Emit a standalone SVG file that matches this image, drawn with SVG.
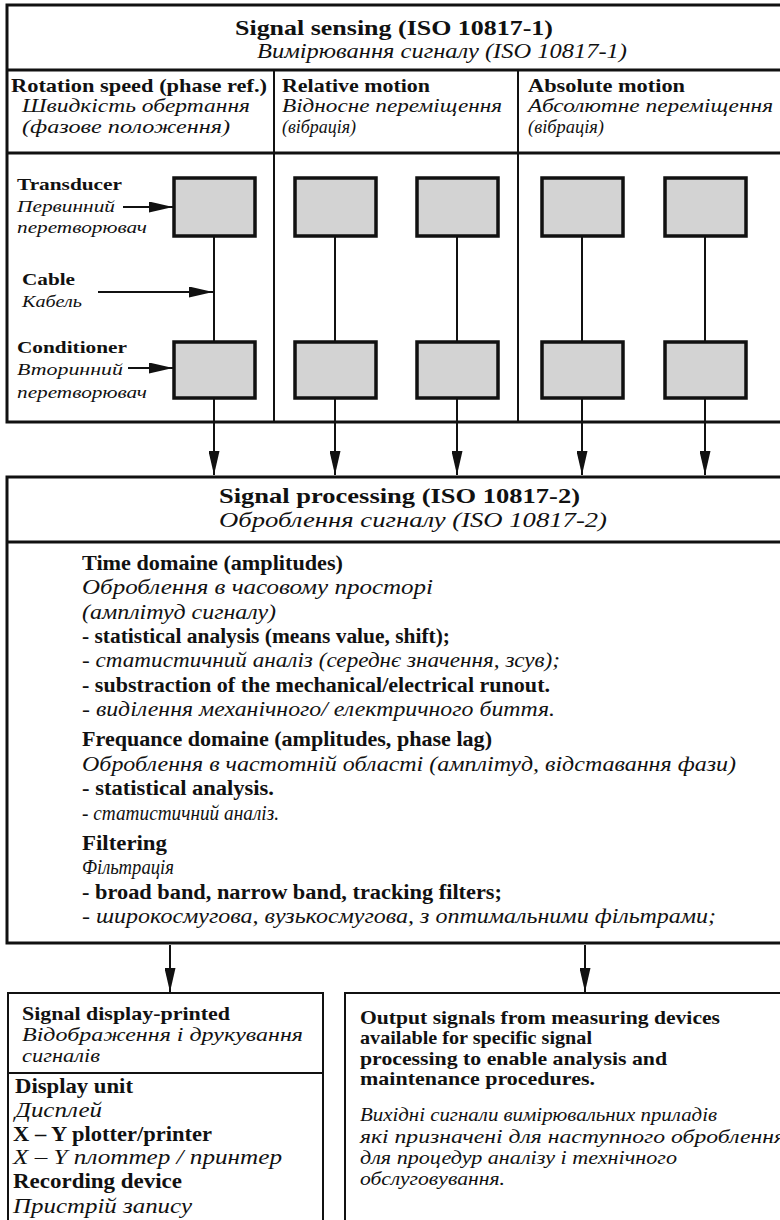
<svg xmlns="http://www.w3.org/2000/svg" width="780" height="1220" viewBox="0 0 780 1220">
<style>
.frame{fill:none;stroke:#111;stroke-width:3}
.thin{stroke:#111;stroke-width:2;fill:none}
.blk{fill:#d3d3d3;stroke:#111;stroke-width:3.5}
.conn{stroke:#111;stroke-width:2;fill:none}
text{font-family:'Liberation Serif','Times New Roman','DejaVu Serif',serif;fill:#111}
.b{font-weight:bold}
.i{font-style:italic}
.s21{font-size:21px}
.s19{font-size:19px}
.s17{font-size:17px}
.s20{font-size:20px}
</style>
<defs>
<marker id="ah" markerUnits="userSpaceOnUse" markerWidth="24" markerHeight="11" refX="24" refY="5.5" orient="auto">
<path d="M0,0 L24,5.5 L0,11 z" fill="#111"/>
</marker>
<marker id="ahs" markerUnits="userSpaceOnUse" markerWidth="24" markerHeight="11" refX="24" refY="5.5" orient="auto">
<path d="M0,0 L24,5.5 L0,11 z" fill="#111"/>
</marker>
</defs>
<rect width="780" height="1220" fill="#fff"/>
<g font-family="Liberation Serif, serif">

<g id="sensing">
<rect class="frame" x="7" y="5" width="790" height="417"/>
<line class="frame" x1="7" y1="70" x2="785" y2="70"/>
<line class="frame" x1="7" y1="153" x2="785" y2="153"/>
<line class="thin" x1="274" y1="70" x2="274" y2="422"/>
<line class="thin" x1="518" y1="70" x2="518" y2="422"/>
<text class="b s21" x="235" y="35" textLength="318" lengthAdjust="spacingAndGlyphs">Signal sensing (ISO 10817-1)</text>
<text class="i s21" x="257" y="58" textLength="370" lengthAdjust="spacingAndGlyphs">Вимірювання сигналу (ISO 10817-1)</text>
</g>

<g id="col-rotation">
<text class="b s19" x="11" y="92" textLength="256" lengthAdjust="spacingAndGlyphs">Rotation speed (phase ref.)</text>
<text class="i s19" x="22" y="112" textLength="228" lengthAdjust="spacingAndGlyphs">Швидкість обертання</text>
<text class="i s19" x="22" y="133" textLength="208" lengthAdjust="spacingAndGlyphs">(фазове положення)</text>
<text class="b s17" x="17" y="190" textLength="105" lengthAdjust="spacingAndGlyphs">Transducer</text>
<text class="i s17" x="17" y="212" textLength="98" lengthAdjust="spacingAndGlyphs">Первинний</text>
<text class="i s17" x="17" y="233" textLength="130" lengthAdjust="spacingAndGlyphs">перетворювач</text>
<text class="b s17" x="22" y="285" textLength="53" lengthAdjust="spacingAndGlyphs">Cable</text>
<text class="i s17" x="22" y="307" textLength="60" lengthAdjust="spacingAndGlyphs">Кабель</text>
<text class="b s17" x="17" y="353" textLength="110" lengthAdjust="spacingAndGlyphs">Conditioner</text>
<text class="i s17" x="17" y="375" textLength="106" lengthAdjust="spacingAndGlyphs">Вторинний</text>
<text class="i s17" x="17" y="398" textLength="130" lengthAdjust="spacingAndGlyphs">перетворювач</text>
</g>
<g id="col-relative">
<text class="b s19" x="282" y="92" textLength="148" lengthAdjust="spacingAndGlyphs">Relative motion</text>
<text class="i s19" x="282" y="112" textLength="220" lengthAdjust="spacingAndGlyphs">Відносне переміщення</text>
<text class="i s19" x="282" y="133" textLength="74" lengthAdjust="spacingAndGlyphs">(вібрація)</text>
</g>
<g id="col-absolute">
<text class="b s19" x="528" y="92" textLength="157" lengthAdjust="spacingAndGlyphs">Absolute  motion</text>
<text class="i s19" x="528" y="112" textLength="245" lengthAdjust="spacingAndGlyphs">Абсолютне переміщення</text>
<text class="i s19" x="528" y="133" textLength="76" lengthAdjust="spacingAndGlyphs">(вібрація)</text>
</g>

<g id="transducers">
<rect class="blk" x="174" y="178" width="81" height="58"/>
<rect class="blk" x="295" y="178" width="81" height="58"/>
<rect class="blk" x="417" y="178" width="81" height="58"/>
<rect class="blk" x="542" y="178" width="81" height="58"/>
<rect class="blk" x="665" y="178" width="81" height="58"/>
</g>
<g id="conditioners">
<rect class="blk" x="174" y="342" width="81" height="56"/>
<rect class="blk" x="295" y="342" width="81" height="56"/>
<rect class="blk" x="417" y="342" width="81" height="56"/>
<rect class="blk" x="542" y="342" width="81" height="56"/>
<rect class="blk" x="665" y="342" width="81" height="56"/>
</g>

<g id="processing">
<rect class="frame" x="7" y="477" width="790" height="466"/>
<line class="frame" x1="7" y1="542" x2="785" y2="542"/>
<text class="b s21" x="219" y="503" textLength="361" lengthAdjust="spacingAndGlyphs">Signal processing  (ISO 10817-2)</text>
<text class="i s21" x="219" y="527" textLength="388" lengthAdjust="spacingAndGlyphs">Оброблення  сигналу  (ISO 10817-2)</text>
<text class="b s20" x="82" y="570" textLength="261" lengthAdjust="spacingAndGlyphs">Time domaine (amplitudes)</text>
<text class="i s20" x="82" y="594" textLength="351" lengthAdjust="spacingAndGlyphs">Оброблення в часовому просторі</text>
<text class="i s20" x="82" y="619" textLength="194" lengthAdjust="spacingAndGlyphs">(амплітуд сигналу)</text>
<text class="b s20" x="82" y="643" textLength="368" lengthAdjust="spacingAndGlyphs">- statistical analysis (means value, shift);</text>
<text class="i s20" x="82" y="667" textLength="478" lengthAdjust="spacingAndGlyphs">- статистичний аналіз (середнє значення, зсув);</text>
<text class="b s20" x="82" y="692" textLength="468" lengthAdjust="spacingAndGlyphs">- substraction of the mechanical/electrical runout.</text>
<text class="i s20" x="82" y="716" textLength="473" lengthAdjust="spacingAndGlyphs">- виділення механічного/ електричного биття.</text>
<text class="b s20" x="82" y="746" textLength="410" lengthAdjust="spacingAndGlyphs">Frequance domaine (amplitudes, phase lag)</text>
<text class="i s20" x="82" y="771" textLength="654" lengthAdjust="spacingAndGlyphs">Оброблення в частотній області (амплітуд, відставання фази)</text>
<text class="b s20" x="82" y="795" textLength="192" lengthAdjust="spacingAndGlyphs">- statistical analysis.</text>
<text class="i s20" x="82" y="820" textLength="197" lengthAdjust="spacingAndGlyphs">- статистичний аналіз.</text>
<text class="b s20" x="82" y="850" textLength="85" lengthAdjust="spacingAndGlyphs">Filtering</text>
<text class="i s20" x="82" y="874" textLength="92" lengthAdjust="spacingAndGlyphs">Фільтрація</text>
<text class="b s20" x="82" y="899" textLength="420" lengthAdjust="spacingAndGlyphs">- broad band, narrow band, tracking  filters;</text>
<text class="i s20" x="82" y="923" textLength="634" lengthAdjust="spacingAndGlyphs">- широкосмугова, вузькосмугова, з оптимальними фільтрами;</text>
</g>

<g id="display">
<rect class="thin" x="8" y="993" width="315" height="240"/>
<line class="thin" x1="8" y1="1073" x2="323" y2="1073"/>
<text class="b s19" x="22" y="1020" textLength="208" lengthAdjust="spacingAndGlyphs">Signal display-printed</text>
<text class="i s19" x="22" y="1041" textLength="281" lengthAdjust="spacingAndGlyphs">Відображення і друкування</text>
<text class="i s19" x="22" y="1062" textLength="78" lengthAdjust="spacingAndGlyphs">сигналів</text>
<text class="b s20" x="15" y="1093" textLength="118" lengthAdjust="spacingAndGlyphs">Display unit</text>
<text class="i s20" x="15" y="1117" textLength="87" lengthAdjust="spacingAndGlyphs">Дисплей</text>
<text class="b s20" x="13" y="1141" textLength="199" lengthAdjust="spacingAndGlyphs">X – Y plotter/printer</text>
<text class="i s20" x="13" y="1164" textLength="269" lengthAdjust="spacingAndGlyphs">X – Y  плоттер / принтер</text>
<text class="b s20" x="13" y="1188" textLength="169" lengthAdjust="spacingAndGlyphs">Recording device</text>
<text class="i s20" x="13" y="1213" textLength="179" lengthAdjust="spacingAndGlyphs">Пристрій запису</text>
</g>

<g id="outputs">
<rect class="thin" x="345" y="993" width="450" height="240"/>
<text class="b s19" x="360" y="1024" textLength="360" lengthAdjust="spacingAndGlyphs">Output signals from measuring devices</text>
<text class="b s19" x="360" y="1044" textLength="232" lengthAdjust="spacingAndGlyphs">available for specific signal</text>
<text class="b s19" x="360" y="1065" textLength="307" lengthAdjust="spacingAndGlyphs">processing  to enable  analysis and</text>
<text class="b s19" x="360" y="1085" textLength="235" lengthAdjust="spacingAndGlyphs">maintenance  procedures.</text>
<text class="i s19" x="360" y="1121" textLength="357" lengthAdjust="spacingAndGlyphs">Вихідні сигнали вимірювальних приладів</text>
<text class="i s19" x="360" y="1143" textLength="425" lengthAdjust="spacingAndGlyphs">які призначені для наступного оброблення</text>
<text class="i s19" x="360" y="1164" textLength="317" lengthAdjust="spacingAndGlyphs">для процедур аналізу і технічного</text>
<text class="i s19" x="360" y="1185" textLength="145" lengthAdjust="spacingAndGlyphs">обслуговування.</text>
</g>

<g id="connectors">
<line class="conn" x1="214" y1="236" x2="214" y2="342"/>
<line class="conn" x1="335" y1="236" x2="335" y2="342"/>
<line class="conn" x1="457" y1="236" x2="457" y2="342"/>
<line class="conn" x1="582" y1="236" x2="582" y2="342"/>
<line class="conn" x1="705" y1="236" x2="705" y2="342"/>
<line class="conn" x1="214" y1="398" x2="214" y2="475" marker-end="url(#ah)"/>
<line class="conn" x1="335" y1="398" x2="335" y2="475" marker-end="url(#ah)"/>
<line class="conn" x1="457" y1="398" x2="457" y2="475" marker-end="url(#ah)"/>
<line class="conn" x1="582" y1="398" x2="582" y2="475" marker-end="url(#ah)"/>
<line class="conn" x1="705" y1="398" x2="705" y2="475" marker-end="url(#ah)"/>
<line class="conn" x1="123" y1="207" x2="173" y2="207" marker-end="url(#ahs)"/>
<line class="conn" x1="98" y1="292" x2="213" y2="292" marker-end="url(#ahs)"/>
<line class="conn" x1="128" y1="368" x2="173" y2="368" marker-end="url(#ahs)"/>
<line class="conn" x1="170" y1="945" x2="170" y2="992" marker-end="url(#ah)"/>
<line class="conn" x1="585" y1="945" x2="585" y2="992" marker-end="url(#ah)"/>
</g>
</g>
</svg>
